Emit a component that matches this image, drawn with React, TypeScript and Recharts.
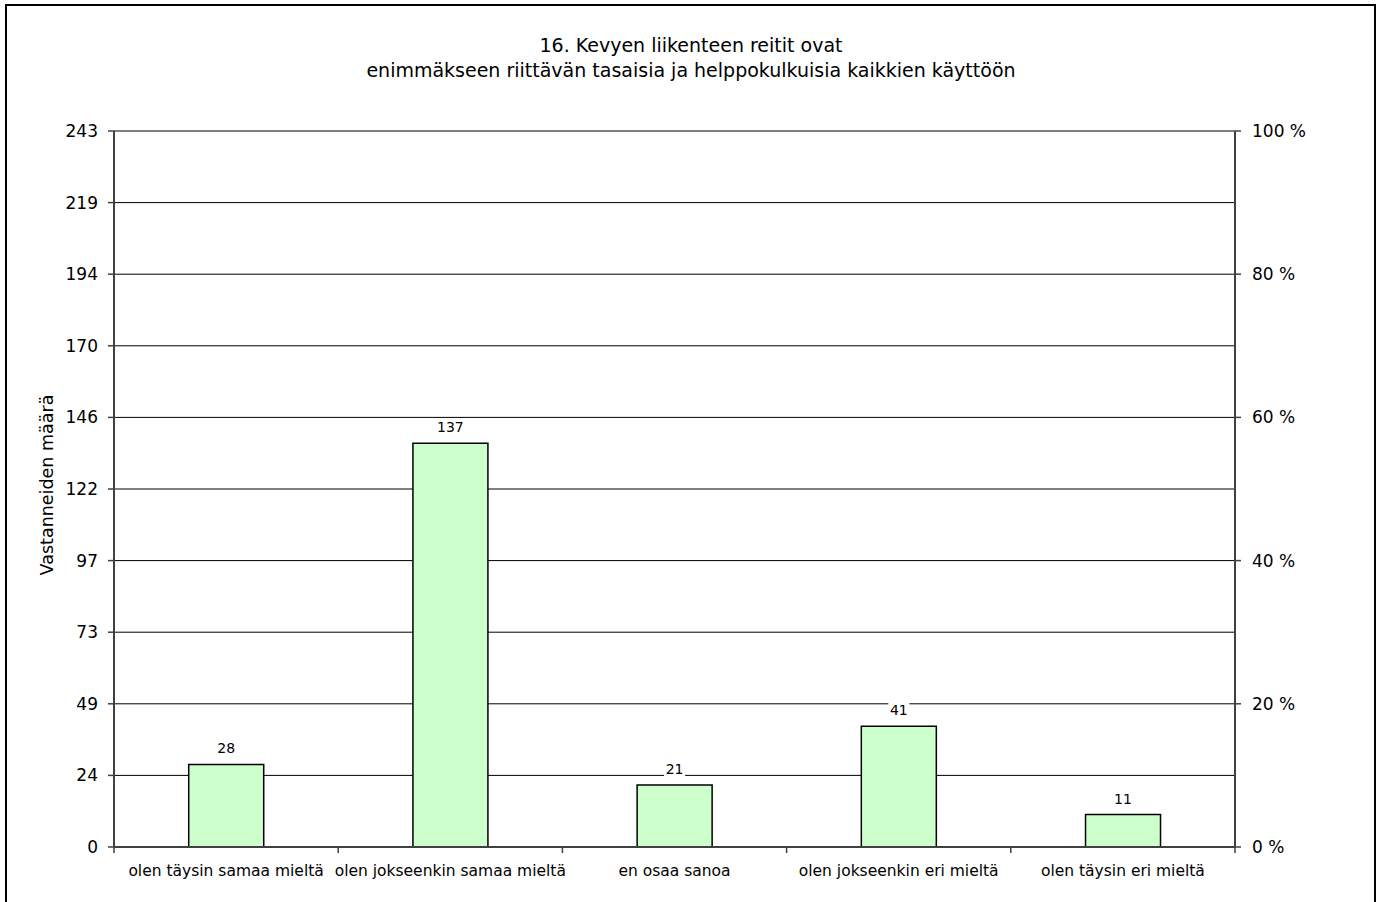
import React from 'react';
import { ComposedChart, Bar, Line, XAxis, YAxis, CartesianGrid, LabelList, Label } from 'recharts';

const FONT = '"DejaVu Sans", Verdana, sans-serif';

const titleLines = [
  '16. Kevyen liikenteen reitit ovat',
  'enimmäkseen riittävän tasaisia ja helppokulkuisia kaikkien käyttöön',
];
const yAxisTitle = 'Vastanneiden määrä';

const categories = [
  'olen täysin samaa mieltä',
  'olen jokseenkin samaa mieltä',
  'en osaa sanoa',
  'olen jokseenkin eri mieltä',
  'olen täysin eri mieltä',
];
const counts = [28, 137, 21, 41, 11];

const leftTickValues = [0, 24.3, 48.6, 72.9, 97.2, 121.5, 145.8, 170.1, 194.4, 218.7, 243];
const leftTickLabels = ['0', '24', '49', '73', '97', '122', '146', '170', '194', '219', '243'];
const rightTickValues = [0, 20, 40, 60, 80, 100];
const rightTickLabels = ['0 %', '20 %', '40 %', '60 %', '80 %', '100 %'];

const data = categories.map((name, i) => ({ name, count: counts[i], pct: 0 }));

const TICK_MARGIN = 16;
const TICK_LEN = 6;

function CategoryTick(props: any) {
  const { x, y, payload, index, visibleTicksCount } = props;
  const half = payload && payload.offset ? payload.offset : 0;
  const axisY = y - TICK_MARGIN;
  const isLast = visibleTicksCount != null ? index === visibleTicksCount - 1 : index === categories.length - 1;
  return (
    <g>
      <line x1={x - half} x2={x - half} y1={axisY} y2={axisY + TICK_LEN} stroke="#404040" strokeWidth={1.5} />
      {isLast && (
        <line x1={x + half} x2={x + half} y1={axisY} y2={axisY + TICK_LEN} stroke="#404040" strokeWidth={1.5} />
      )}
      <text
        x={x}
        y={y + 8}
        textAnchor="middle"
        dominantBaseline="central"
        fontSize={15.5}
        fontFamily={FONT}
        fill="#000"
      >
        {payload.value}
      </text>
    </g>
  );
}

function ValueLabel(props: any) {
  const { x, y, width, value } = props;
  const cx = x + width / 2;
  const label = String(value);
  const w = label.length * 9 + 3;
  return (
    <g>
      <rect x={cx - w / 2} y={y - 25} width={w} height={17} fill="#ffffff" />
      <text
        x={cx}
        y={y - 16}
        textAnchor="middle"
        dominantBaseline="central"
        fontSize={14}
        fontFamily={FONT}
        fill="#000"
      >
        {label}
      </text>
    </g>
  );
}

function YTitle(props: any) {
  const { viewBox } = props;
  const cx = 47;
  const cy = viewBox.y + viewBox.height / 2 - 4;
  return (
    <text
      x={cx}
      y={cy}
      transform={`rotate(-90 ${cx} ${cy})`}
      textAnchor="middle"
      dominantBaseline="central"
      fontSize={17.5}
      fontFamily={FONT}
      fill="#000"
    >
      {yAxisTitle}
    </text>
  );
}

export default function App() {
  return (
    <div
      style={{
        position: 'absolute',
        left: 0,
        top: 0,
        width: 1382,
        height: 902,
        overflow: 'hidden',
        background: '#fff',
      }}
    >
      <div
        style={{
          position: 'absolute',
          left: 5,
          top: 4,
          width: 1371,
          height: 1000,
          border: '2px solid #000',
          boxSizing: 'border-box',
        }}
      />
      <div
        style={{
          position: 'absolute',
          left: 0,
          top: 33,
          width: 1382,
          textAlign: 'center',
          fontFamily: FONT,
          fontSize: 19,
          lineHeight: '25px',
          color: '#000',
        }}
      >
        {titleLines.map((t) => (
          <div key={t}>{t}</div>
        ))}
      </div>
      <div style={{ position: 'absolute', left: 0, top: 0 }}>
        <ComposedChart
          width={1382}
          height={902}
          data={data}
          margin={{ top: 131, right: 0, bottom: 22, left: 0 }}
          barCategoryGap="33.33%"
        >
          <CartesianGrid vertical={false} horizontal stroke="#000" strokeWidth={1} />
          <XAxis
            dataKey="name"
            height={33}
            axisLine={{ stroke: '#404040', strokeWidth: 2 }}
            tickLine={false}
            tickSize={0}
            tickMargin={TICK_MARGIN}
            interval={0}
            tick={<CategoryTick />}
          />
          <YAxis
            yAxisId={0}
            width={114}
            domain={[0, 243]}
            ticks={leftTickValues}
            allowDataOverflow
            interval={0}
            tickFormatter={(v: number) => leftTickLabels[leftTickValues.indexOf(v)] ?? String(Math.round(v))}
            tickSize={6}
            tickMargin={10}
            axisLine={{ stroke: '#404040', strokeWidth: 2 }}
            tickLine={{ stroke: '#404040', strokeWidth: 1.5 }}
            tick={{ fontSize: 17, fontFamily: FONT, fill: '#000' }}
          >
            <Label content={<YTitle />} />
          </YAxis>
          <YAxis
            yAxisId="right"
            orientation="right"
            type="number"
            width={147}
            domain={[0, 100]}
            ticks={rightTickValues}
            allowDataOverflow
            interval={0}
            tickFormatter={(v: number) => rightTickLabels[rightTickValues.indexOf(v)]}
            tickSize={6}
            tickMargin={11}
            axisLine={{ stroke: '#404040', strokeWidth: 2 }}
            tickLine={{ stroke: '#404040', strokeWidth: 1.5 }}
            tick={{ fontSize: 17, fontFamily: FONT, fill: '#000' }}
          />
          <Bar
            dataKey="count"
            yAxisId={0}
            fill="#CCFFCC"
            stroke="#000"
            strokeWidth={1.5}
            isAnimationActive={false}
          >
            <LabelList dataKey="count" content={<ValueLabel />} />
          </Bar>
          <Line
            dataKey="pct"
            yAxisId="right"
            stroke="none"
            dot={false}
            activeDot={false}
            legendType="none"
            isAnimationActive={false}
          />
        </ComposedChart>
      </div>
    </div>
  );
}
